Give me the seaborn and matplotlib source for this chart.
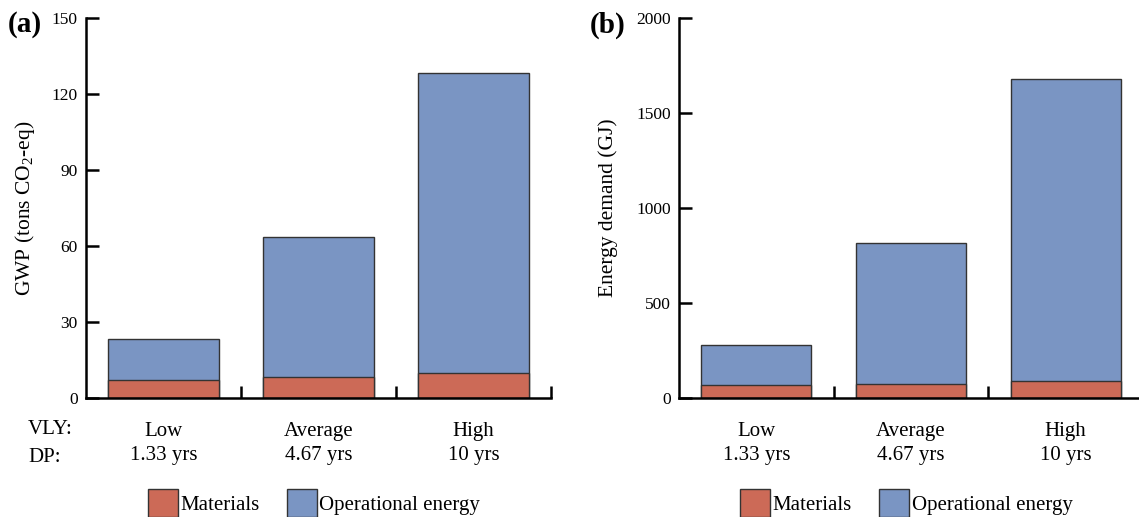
import matplotlib
matplotlib.use("Agg")
import matplotlib.pyplot as plt
import seaborn as sns
import pandas as pd
from matplotlib.patches import Patch

# ---- data ----
categories = ["Low", "Average", "High"]
dp_labels = ["1.33 yrs", "4.67 yrs", "10 yrs"]
gwp_materials = [7.2, 8.4, 9.9]
gwp_operational = [15.9, 55.1, 118.3]
energy_materials = [67, 74, 88]
energy_operational = [211, 744, 1590]
series_names = ["Materials", "Operational energy"]

red = "#CC6A57"
blue = "#7A95C3"
edge = "#333333"

sns.set_theme(style="white")
plt.rcParams["font.family"] = ["Liberation Serif", "DejaVu Serif"]
plt.rcParams["mathtext.fontset"] = "custom"
plt.rcParams["mathtext.rm"] = "Liberation Serif"
plt.rcParams["mathtext.it"] = "Liberation Serif:italic"
for k in ["text.color", "axes.labelcolor", "xtick.color", "ytick.color"]:
    plt.rcParams[k] = "black"

fig = plt.figure(figsize=(11.39, 5.17), dpi=100)
W, H = 1139, 517
axL = fig.add_axes([86 / W, 1 - 398 / H, 465 / W, 380 / H])
axR = fig.add_axes([679 / W, 1 - 398 / H, 464 / W, 380 / H])

FS = 15


def draw(ax, mats, ops, ymax, ystep, ylabel, labx):
    df = pd.DataFrame({
        "cat": categories,
        "total": [m + o for m, o in zip(mats, ops)],
        "mat": mats,
    })
    sns.barplot(data=df, x="cat", y="total", order=categories, color=blue,
                saturation=1, width=0.71, edgecolor=edge, linewidth=1.0, ax=ax)
    sns.barplot(data=df, x="cat", y="mat", order=categories, color=red,
                saturation=1, width=0.71, edgecolor=edge, linewidth=1.0, ax=ax)
    ax.set_xlim(-0.5, 2.5)
    ax.set_ylim(0, ymax)
    ax.set_yticks(range(0, ymax + 1, ystep))
    ax.set_xticks([0, 1, 2])
    ax.set_xticklabels([f"{c}\n{d}" for c, d in zip(categories, dp_labels)],
                       fontsize=FS, linespacing=1.35)
    ax.set_xticks([0.5, 1.5, 2.5], minor=True)
    ax.tick_params(axis="x", which="major", length=0, pad=17)
    ax.tick_params(axis="x", which="minor", direction="in", length=9,
                   width=1.8, color="black", bottom=True)
    ax.tick_params(axis="y", direction="in", length=9, width=1.8,
                   color="black", labelsize=12.5, pad=6, left=True)
    for s in ["top", "right"]:
        ax.spines[s].set_visible(False)
    for s in ["left", "bottom"]:
        ax.spines[s].set_linewidth(1.8)
        ax.spines[s].set_color("black")
    ax.set_xlabel("")
    ax.set_ylabel(ylabel, fontsize=15.5)
    ax.yaxis.set_label_coords(labx, 0.5)
    handles = [Patch(facecolor=red, edgecolor=edge, label=series_names[0]),
               Patch(facecolor=blue, edgecolor=edge, label=series_names[1])]
    ax.legend(handles=handles, loc="center", bbox_to_anchor=(0.49, -0.276),
              ncol=2, frameon=False, fontsize=FS, handlelength=1.45,
              handleheight=1.65, handletextpad=0.12, columnspacing=1.3,
              borderpad=0.2)


draw(axL, gwp_materials, gwp_operational, 150, 30,
     "GWP (tons CO$_2$-eq)", -0.105)
draw(axR, energy_materials, energy_operational, 2000, 500,
     "Energy demand (GJ)", -0.131)

fig.text(28 / W, 1 - 429 / H, "VLY:", fontsize=FS, ha="left", va="center")
fig.text(28 / W, 1 - 457 / H, "DP:", fontsize=FS, ha="left", va="center")
fig.text(8 / W, 1 - 25 / H, "(a)", fontsize=21, fontweight="bold",
         ha="left", va="center")
fig.text(590 / W, 1 - 25 / H, "(b)", fontsize=21, fontweight="bold",
         ha="left", va="center")

fig.savefig("out.png", dpi=100)
